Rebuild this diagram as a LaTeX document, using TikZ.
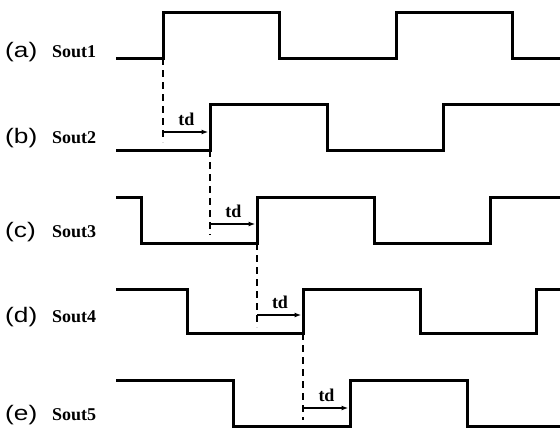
\documentclass[tikz,border=0pt]{standalone}
\usepackage{fontspec}
\setmainfont{Liberation Serif}
\newfontfamily\labfont[FakeStretch=1.25]{Liberation Sans}
\usetikzlibrary{
	positioning,
	arrows.meta
}

\begin{document}
\begin{tikzpicture}[
		x=1pt, y=-1pt,
		wave/.style={line width=3pt},
		guide/.style={dash pattern=on 7pt off 5pt, line width=1.8pt},
		delay/.style={-{Latex[length=7pt,width=5pt]}, line width=1.4pt, shorten >=1.5pt},
		tag/.style={font=\labfont\fontsize{21}{21}\selectfont, anchor=base west, inner sep=0pt},
		sig/.style={font=\bfseries\fontsize{18}{18}\selectfont, anchor=base west, inner sep=0pt},
		tdlabel/.style={font=\bfseries\fontsize{18}{18}\selectfont, anchor=base, inner sep=0pt, yshift=7pt}
	]
	\useasboundingbox (0,0) rectangle (560,429);

	% row labels
	\node[tag] (la) at (5,57)  {(a)};
	\node[sig] (sa) at (52,57) {Sout1};
	\node[tag] (lb) at (5,143)  {(b)};
	\node[sig] (sb) at (52,143) {Sout2};
	\node[tag] (lc) at (5,237)  {(c)};
	\node[sig] (sc) at (52,237) {Sout3};
	\node[tag] (ld) at (5,322)  {(d)};
	\node[sig] (sd) at (52,322) {Sout4};
	\node[tag] (le) at (5,420)  {(e)};
	\node[sig] (se) at (52,420) {Sout5};

	% waveforms
	\draw[wave] (116,58) -- (163,58) coordinate (ra) -- (163,12) -- (279,12) -- (279,58)
		-- (396,58) -- (396,12) -- (512,12) -- (512,58) -- (560,58);
	\draw[wave] (116,150) -- (210,150) coordinate (rb) -- (210,104) -- (327,104) -- (327,150)
		-- (443,150) -- (443,104) -- (560,104);
	\draw[wave] (116,197) -- (141,197) -- (141,243) -- (257,243) coordinate (rc) -- (257,197)
		-- (374,197) -- (374,243) -- (490,243) -- (490,197) -- (560,197);
	\draw[wave] (116,289) -- (187,289) -- (187,333) -- (303,333) coordinate (rd) -- (303,289)
		-- (420,289) -- (420,333) -- (536,333) -- (536,289) -- (560,289);
	\draw[wave] (116,380) -- (233,380) -- (233,426) -- (350,426) coordinate (re) -- (350,380)
		-- (467,380) -- (467,426) -- (560,426);

	% delay marks
	\coordinate (ga) at (163,142);
	\coordinate (gb) at (210,235);
	\coordinate (gc) at (257,327);
	\coordinate (gd) at (303,420);
	\coordinate (ta) at (163,132);
	\coordinate (tb) at (210,224);
	\coordinate (tc) at (257,315);
	\coordinate (td) at (303,408);

	\draw[guide] (ra) -- (ga);
	\draw[guide] (rb) -- (gb);
	\draw[guide] (rc) -- (gc);
	\draw[guide] (rd) -- (gd);

	\draw[delay] (ta) -- node[tdlabel] (da) {td} (ta -| rb);
	\draw[delay] (tb) -- node[tdlabel] (db) {td} (tb -| rc);
	\draw[delay] (tc) -- node[tdlabel] (dc) {td} (tc -| rd);
	\draw[delay] (td) -- node[tdlabel] (dd) {td} (td -| re);
\end{tikzpicture}
\end{document}
